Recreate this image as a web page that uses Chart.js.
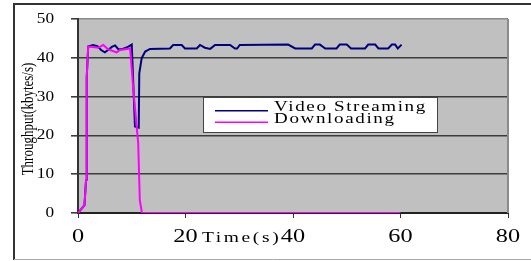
<!DOCTYPE html>
<html>
<head>
<meta charset="utf-8">
<script src="https://cdn.jsdelivr.net/npm/chart.js@4.4.0/dist/chart.umd.min.js"></script>
<style>
html, body { margin: 0; padding: 0; background: #fff; }
#wrap { width: 531px; height: 261px; }
</style>
</head>
<body>
<div id="wrap"><canvas id="myChart" width="531" height="261"></canvas></div>
<script>
const ctx = document.getElementById('myChart').getContext('2d');

// samples, time in s, throughput in kbytes/s
const videoTime = [0, 1.2, 1.5, 1.6, 1.65, 1.9, 2.8, 3.6, 4.3, 5.0, 5.6, 6.3, 6.9, 7.5, 8.2, 9.3, 10.0,
    10.6, 11.3, 11.4, 11.85, 12.5, 13.4, 17.1, 17.7, 19.3, 19.9, 22.1, 22.7, 23.6, 24.6, 25.5,
    28.3, 29.2, 29.6, 30.1, 39.1, 40.4, 43.5, 44.1, 45.0, 46.0, 48.1, 48.7, 50.0, 50.8, 53.4,
    54.0, 55.3, 55.9, 57.7, 58.4, 59.0, 59.5, 60.2];
const videoRate = [0, 2, 8.5, 31, 35, 42.9, 43.3, 43.0, 42.0, 41.4, 42.0, 42.8, 43.2, 42.2, 42.2, 42.8, 43.4,
    22.3, 22.0, 36, 39.9, 41.6, 42.3, 42.4, 43.3, 43.3, 42.4, 42.4, 43.3, 42.6, 42.3, 43.3,
    43.3, 42.4, 42.4, 43.3, 43.4, 42.4, 42.4, 43.4, 43.4, 42.4, 42.4, 43.4, 43.4, 42.4, 42.4,
    43.4, 43.4, 42.4, 42.4, 43.4, 43.4, 42.4, 43.4];

const downloadTime = [0, 1.2, 1.5, 1.6, 1.65, 1.9, 3.8, 4.7, 5.6, 7.2, 7.8, 9.7, 10.3, 11.2, 11.5, 11.9, 60];
const downloadRate = [0, 2, 8.5, 31, 35, 42.9, 42.6, 43.3, 42.2, 41.4, 42.0, 42.4, 31.7, 18, 3.3, 0, 0];

const xTicks = [0, 20, 40, 60, 80];
const yTicks = [0, 10, 20, 30, 40, 50];

const serif = '"Liberation Serif", "Times New Roman", serif';

function pairs(xs, ys) {
    return xs.map((x, i) => ({x: x, y: ys[i]}));
}

// text in the picture is stretched sideways: widen each glyph run around its anchor
function wideText(c, text, x, y, sx) {
    c.save();
    c.translate(x, y);
    c.scale(sx, 1);
    c.fillText(text, 0, 0);
    c.restore();
}

function stretchLabels(scale, sx) {
    if (scale._stretched) return;
    const orig = scale.drawLabels;
    scale.drawLabels = function(area) {
        const c = this.ctx;
        const fill = CanvasRenderingContext2D.prototype.fillText;
        c.fillText = function(t, x, y) {
            c.save();
            c.translate(x, y);
            c.scale(sx, 1);
            fill.call(c, t, 0, 0);
            c.restore();
        };
        orig.call(this, area);
        delete c.fillText;
    };
    scale._stretched = true;
}

const frame = {
    id: 'frame',
    beforeDraw(chart) {
        const c = chart.ctx, a = chart.chartArea;
        c.save();
        c.fillStyle = '#fff';
        c.fillRect(0, 0, chart.width, chart.height);
        c.fillStyle = '#c0c0c0';
        c.fillRect(a.left, a.top, a.right - a.left, a.bottom - a.top);
        c.strokeStyle = '#333';
        c.lineWidth = 2;
        c.beginPath();
        c.moveTo(14, 260); c.lineTo(14, 4); c.lineTo(531, 4);
        c.stroke();
        c.strokeStyle = '#aaa';
        c.lineWidth = 1;
        c.beginPath();
        c.moveTo(14, 259.5); c.lineTo(531, 259.5);
        c.stroke();
        c.restore();
        stretchLabels(chart.scales.x, 1.35);
        stretchLabels(chart.scales.y, 1.15);
    },
    afterDraw(chart) {
        const c = chart.ctx, a = chart.chartArea;
        c.save();
        // right edge of plot
        c.strokeStyle = '#8a8a8a';
        c.lineWidth = 2;
        c.beginPath();
        c.moveTo(a.right, a.top); c.lineTo(a.right, a.bottom);
        c.stroke();

        // axis titles
        c.fillStyle = '#000';
        c.font = '15px ' + serif;
        c.letterSpacing = '2px';
        c.textAlign = 'left';
        c.textBaseline = 'alphabetic';
        wideText(c, 'Time(s)', 202, 242, 1.3);

        c.letterSpacing = '0px';
        c.font = '13px ' + serif;
        c.translate(29, 119);
        c.rotate(-Math.PI / 2);
        c.scale(1, 1.25);
        c.textAlign = 'center';
        c.textBaseline = 'middle';
        c.fillText('Throughput(kbytes/s)', 0, 0);
        c.restore();

        // legend box
        c.save();
        c.fillStyle = '#fff';
        c.fillRect(203.5, 97.5, 234, 35);
        c.strokeStyle = '#444';
        c.lineWidth = 1;
        c.strokeRect(203.5, 97.5, 234, 35);
        c.font = '14px ' + serif;
        c.letterSpacing = '1.2px';
        c.textAlign = 'left';
        c.textBaseline = 'alphabetic';
        chart.data.datasets.forEach((ds, i) => {
            const y = 110.7 + i * 11.6;
            c.strokeStyle = ds.borderColor;
            c.lineWidth = 1.5;
            c.beginPath();
            c.moveTo(215, y); c.lineTo(268, y);
            c.stroke();
            c.fillStyle = '#000';
            wideText(c, ds.label, 274, y + 0.5, 1.36);
        });
        c.restore();
    }
};

const data = {
    datasets: [{
        label: 'Video Streaming',
        data: pairs(videoTime, videoRate),
        borderColor: '#000080',
        borderWidth: 2,
        pointRadius: 0,
        showLine: true,
        tension: 0,
        order: 1
    }, {
        label: 'Downloading',
        data: pairs(downloadTime, downloadRate),
        borderColor: '#ff00ff',
        borderWidth: 2,
        pointRadius: 0,
        showLine: true,
        tension: 0,
        order: 0
    }]
};

const config = {
    type: 'scatter',
    data: data,
    plugins: [frame],
    options: {
        responsive: false,
        animation: false,
        events: [],
        layout: { padding: { top: 19, right: 23, bottom: 0, left: 0 } },
        plugins: {
            legend: { display: false },
            tooltip: { enabled: false }
        },
        scales: {
            x: {
                type: 'linear',
                min: 0,
                max: 80,
                afterBuildTicks: s => { s.ticks = xTicks.map(v => ({value: v})); },
                afterFit: s => { s.height = 48; s.paddingLeft = 0; s.paddingRight = 0; },
                grid: { drawOnChartArea: false, tickLength: 5, color: '#333', tickColor: '#333' },
                border: { color: '#222', width: 2 },
                ticks: { color: '#000', padding: 8, maxRotation: 0,
                    font: { family: serif, size: 18 } }
            },
            y: {
                min: 0,
                max: 50,
                afterBuildTicks: s => { s.ticks = yTicks.map(v => ({value: v})); },
                afterFit: s => { s.width = 78; s.paddingTop = 0; s.paddingBottom = 0; },
                grid: {
                    tickLength: 7,
                    lineWidth: 1.6,
                    color: c => (c.tick && c.tick.value === 50) ? '#8a8a8a' : '#3c3c3c',
                    tickColor: '#3c3c3c'
                },
                border: { color: '#333', width: 2 },
                ticks: { color: '#000', padding: 17, font: { family: serif, size: 15 } }
            }
        }
    }
};

const myChart = new Chart(ctx, config);
</script>
</body>
</html>
